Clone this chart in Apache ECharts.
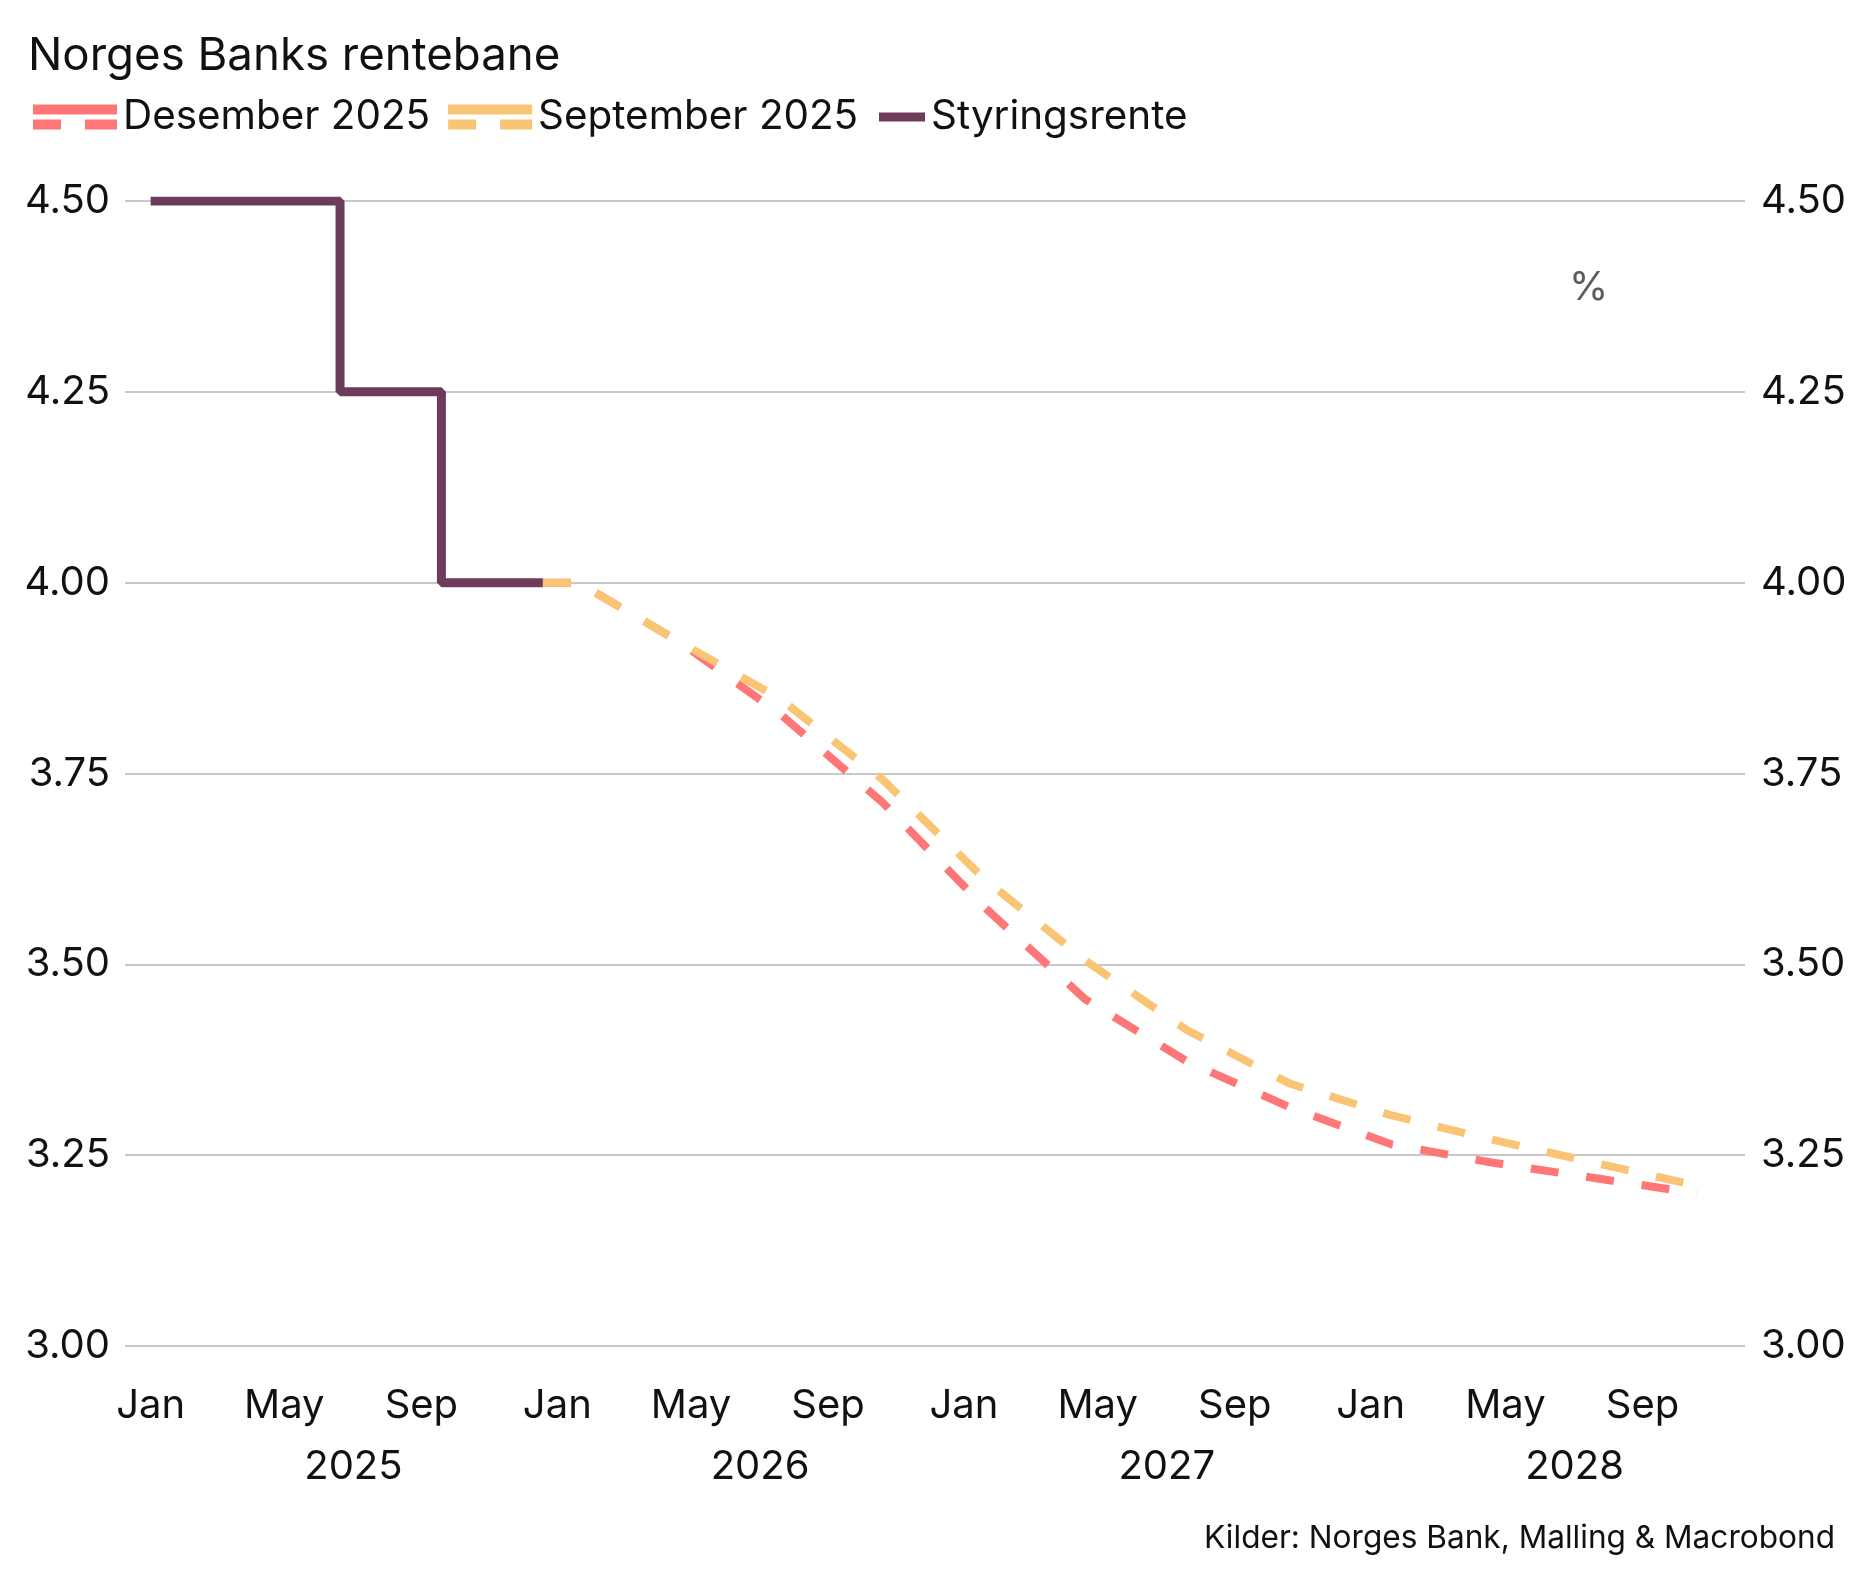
<!DOCTYPE html>
<html>
<head>
<meta charset="utf-8">
<script src="https://cdn.jsdelivr.net/npm/echarts@6/dist/echarts.min.js"></script>
<style>
html,body{margin:0;padding:0;background:#fff;}
#chart{width:1871px;height:1593px;}
</style>
</head>
<body>
<div id="chart"></div>
<script>
// ---- data ----
const titleText = 'Norges Banks rentebane';
const sourceText = 'Kilder: Norges Bank, Malling & Macrobond';
const unitText = '%';

const seriesNames = ['Desember 2025', 'September 2025', 'Styringsrente'];

const policyDates = ['2025-01-01', '2025-06-20', '2025-09-19', '2025-12-19'];
const policyValues = [4.50, 4.25, 4.00, 4.00];

const pathDates = ['2025-12-19', '2026-01-20', '2026-04-20', '2026-07-20', '2026-10-20',
  '2027-01-20', '2027-04-20', '2027-07-20', '2027-10-20',
  '2028-01-20', '2028-04-20', '2028-07-20', '2028-10-20'];
const desValues = [4.00, 4.00, 3.923, 3.828, 3.712, 3.574, 3.454, 3.373, 3.313, 3.264, 3.240, 3.220, 3.200];
const sepValues = [4.00, 4.00, 3.923, 3.848, 3.742, 3.611, 3.505, 3.414, 3.344, 3.302, 3.270, 3.240, 3.210];

const monthTickDates = ['2025-01-01', '2025-05-01', '2025-09-01', '2026-01-01', '2026-05-01', '2026-09-01',
  '2027-01-01', '2027-05-01', '2027-09-01', '2028-01-01', '2028-05-01', '2028-09-01'];
const monthTickLabels = ['Jan', 'May', 'Sep', 'Jan', 'May', 'Sep', 'Jan', 'May', 'Sep', 'Jan', 'May', 'Sep'];
const yearTickDates = ['2025-07-02', '2026-07-02', '2027-07-02', '2028-07-02'];
const yearTickLabels = ['2025', '2026', '2027', '2028'];

const yMin = 3.0, yMax = 4.5, yStep = 0.25;
const xMin = '2024-12-09', xMax = '2028-12-02';

// ---- chart ----
const FONT = 'Inter';
const colors = ['#FF7676', '#F9C474', '#6D3C5B'];
const chart = echarts.init(document.getElementById('chart'), null, {renderer: 'canvas'});

const ts = s => Date.parse(s + 'T00:00:00Z');
const toPairs = (d, v) => d.map((x, i) => [ts(x), v[i]]);
const monthTicks = monthTickDates.map(ts);
const yearTicks = yearTickDates.map(ts);
const dashIcon = 'path://M0,0H84V10H0Z M0,15H28V25H0Z M52,15H84V25H52Z';

const axisLabelBase = {fontFamily: FONT, fontSize: 40, color: '#111'};

chart.setOption({
  animation: false,
  backgroundColor: '#fff',
  title: {
    text: titleText, left: 23, top: 28,
    textStyle: {fontFamily: FONT, fontSize: 45.6, fontWeight: 'normal', color: '#111'}
  },
  legend: [
    {
      data: [{name: seriesNames[0], icon: dashIcon}, {name: seriesNames[1], icon: dashIcon}],
      left: 28, top: 90, itemWidth: 84, itemHeight: 25, itemGap: 18,
      textStyle: {fontFamily: FONT, fontSize: 40.4, color: '#111', lineHeight: 44, padding: [0, 0, 0, 1]},
      selectedMode: false
    },
    {
      data: [{name: seriesNames[2], icon: 'rect'}],
      left: 874, top: 90, itemWidth: 46, itemHeight: 9,
      textStyle: {fontFamily: FONT, fontSize: 40.4, color: '#111', lineHeight: 44, padding: [0, 0, 0, 1]},
      selectedMode: false
    }
  ],
  grid: {left: 125, right: 126, top: 201, bottom: 247, containLabel: false},
  xAxis: [
    {
      type: 'value', min: ts(xMin), max: ts(xMax),
      axisLine: {show: false}, axisTick: {show: false}, splitLine: {show: false},
      axisLabel: Object.assign({}, axisLabelBase, {
        customValues: monthTicks, margin: 40,
        formatter: v => monthTickLabels[monthTicks.indexOf(v)]
      })
    },
    {
      type: 'value', min: ts(xMin), max: ts(xMax), position: 'bottom', offset: 0,
      axisLine: {show: false}, axisTick: {show: false}, splitLine: {show: false},
      axisLabel: Object.assign({}, axisLabelBase, {
        customValues: yearTicks, margin: 101,
        formatter: v => yearTickLabels[yearTicks.indexOf(v)]
      })
    }
  ],
  yAxis: [
    {
      type: 'value', min: yMin, max: yMax, interval: yStep, position: 'left',
      axisLine: {show: false}, axisTick: {show: false},
      splitLine: {show: true, lineStyle: {color: '#C8C8C8', width: 2}},
      axisLabel: Object.assign({}, axisLabelBase, {margin: 15, formatter: v => v.toFixed(2)})
    },
    {
      type: 'value', min: yMin, max: yMax, interval: yStep, position: 'right',
      axisLine: {show: false}, axisTick: {show: false}, splitLine: {show: false},
      axisLabel: Object.assign({}, axisLabelBase, {margin: 16, formatter: v => v.toFixed(2)})
    }
  ],
  graphic: [
    {
      type: 'text', left: 1569, top: 268,
      style: {text: unitText, fontFamily: FONT, fontSize: 40, fill: '#5C5C5C'}
    },
    {
      type: 'text', right: 36, top: 1522,
      style: {text: sourceText, fontFamily: FONT, fontSize: 31.6, fill: '#111'}
    }
  ],
  series: [
    {
      name: seriesNames[0], type: 'line', data: toPairs(pathDates, desValues),
      showSymbol: false, symbol: 'none', z: 2,
      itemStyle: {color: colors[0]},
      lineStyle: {color: colors[0], width: 8, type: [28, 28], cap: 'butt'}
    },
    {
      name: seriesNames[1], type: 'line', data: toPairs(pathDates, sepValues),
      showSymbol: false, symbol: 'none', z: 3,
      itemStyle: {color: colors[1]},
      lineStyle: {color: colors[1], width: 8, type: [28, 28], cap: 'butt'}
    },
    {
      name: seriesNames[2], type: 'line', data: toPairs(policyDates, policyValues), step: 'end',
      showSymbol: false, symbol: 'none', z: 4,
      itemStyle: {color: colors[2]},
      lineStyle: {color: colors[2], width: 9, cap: 'butt'}
    }
  ]
});
</script>
</body>
</html>
